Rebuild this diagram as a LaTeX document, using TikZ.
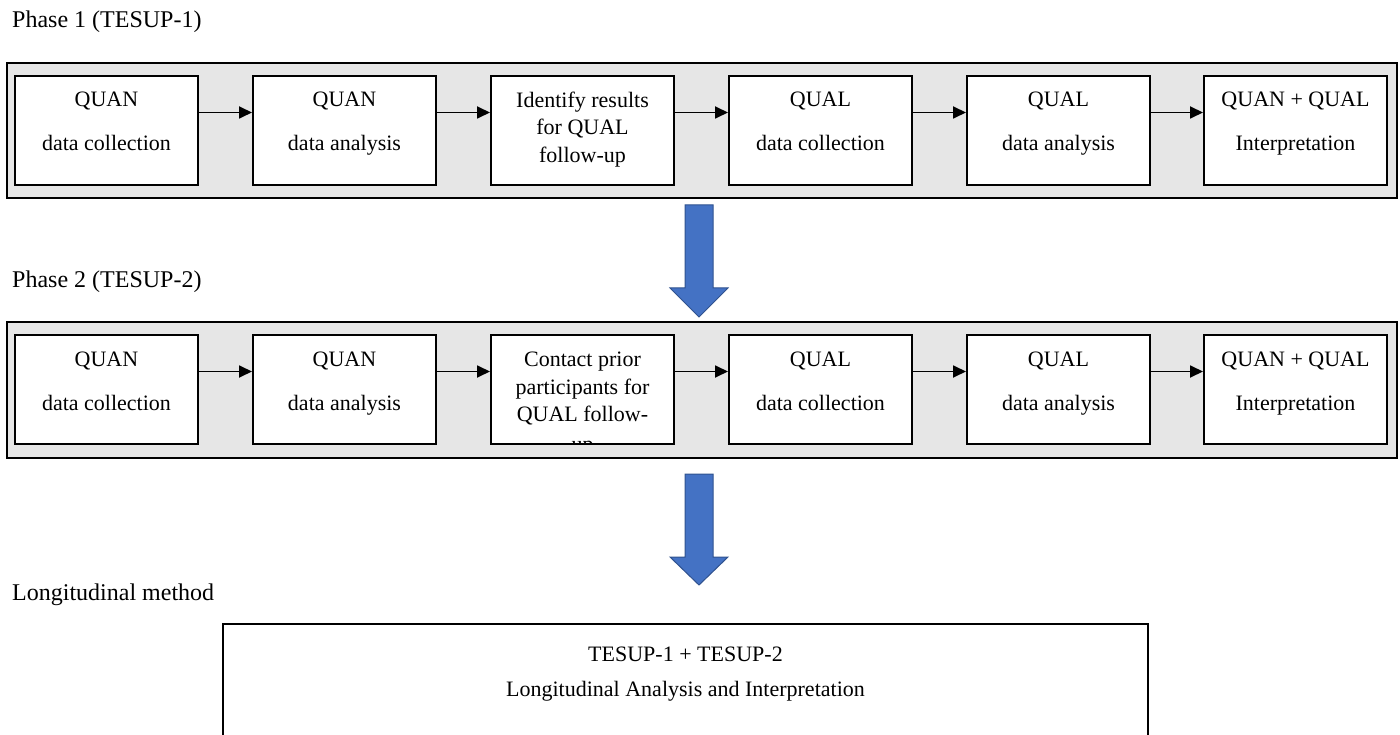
\documentclass[tikz,border=0pt]{standalone}
\usepackage{fontspec}
\setmainfont{Liberation Serif}
\usetikzlibrary{arrows.meta}
\definecolor{panelgray}{RGB}{230,230,230}
\definecolor{arrowblue}{RGB}{68,114,196}
\definecolor{arrowedge}{RGB}{47,82,143}
\tikzset{
  panel/.style={draw=black, line width=2pt, fill=panelgray, inner sep=0pt, anchor=north west},
  stepbox/.style={draw=black, line width=2pt, fill=white, minimum width=183pt, minimum height=109pt, inner sep=0pt, anchor=north west},
  boxtxt/.style={font=\fontsize{22}{26}\selectfont, anchor=base, inner sep=0pt},
  lbl/.style={font=\fontsize{24}{28}\selectfont, anchor=base west, inner sep=0pt},
  flow/.style={line width=1.8pt, -{Triangle[length=13pt,width=12pt]}},
  bigarrow/.style={fill=arrowblue, draw=arrowedge, line width=1pt, line join=miter},
}
\begin{document}
\begin{tikzpicture}[x=1pt,y=-1pt]
\useasboundingbox (0,0) rectangle (1400,735);

% ---------- Phase 1 ----------
\node[lbl] (lab1) at (12,28) {Phase 1 (TESUP-1)};
\node[panel, minimum width=1390pt, minimum height=135pt] (ph1) at (6,62) {};

\node[stepbox] (a1) at (14,75) {};
\node[stepbox] (a2) at (252,75) {};
\node[stepbox] (a3) at (490,75) {};
\node[stepbox] (a4) at (728,75) {};
\node[stepbox] (a5) at (966,75) {};
\node[stepbox] (a6) at (1203,75) {};

\node[boxtxt] (a1t1) at ([yshift=-32pt]a1.north) {QUAN};
\node[boxtxt] (a1t2) at ([yshift=-76pt]a1.north) {data collection};
\node[boxtxt] (a2t1) at ([yshift=-32pt]a2.north) {QUAN};
\node[boxtxt] (a2t2) at ([yshift=-76pt]a2.north) {data analysis};
\node[boxtxt] (a3t1) at ([yshift=-32.5pt]a3.north) {Identify results};
\node[boxtxt] (a3t2) at ([yshift=-60pt]a3.north) {for QUAL};
\node[boxtxt] (a3t3) at ([yshift=-87.5pt]a3.north) {follow-up};
\node[boxtxt] (a4t1) at ([yshift=-32pt]a4.north) {QUAL};
\node[boxtxt] (a4t2) at ([yshift=-76pt]a4.north) {data collection};
\node[boxtxt] (a5t1) at ([yshift=-32pt]a5.north) {QUAL};
\node[boxtxt] (a5t2) at ([yshift=-76pt]a5.north) {data analysis};
\node[boxtxt] (a6t1) at ([yshift=-32pt]a6.north) {QUAN + QUAL};
\node[boxtxt] (a6t2) at ([yshift=-76pt]a6.north) {Interpretation};

\foreach \u/\v in {a1/a2,a2/a3,a3/a4,a4/a5,a5/a6}
  \draw[flow] ([yshift=18pt]\u.east) -- ([yshift=18pt]\v.west);

% ---------- arrow 1 ----------
\draw[bigarrow] (685,205) -- (713,205) -- (713,288) -- (728,288) -- (699,317) -- (670,288) -- (685,288) -- cycle;

% ---------- Phase 2 ----------
\node[lbl] (lab2) at (12,288) {Phase 2 (TESUP-2)};
\node[panel, minimum width=1390pt, minimum height=136pt] (ph2) at (6,321) {};

\node[stepbox] (b1) at (14,334) {};
\node[stepbox] (b2) at (252,334) {};
\node[stepbox] (b3) at (490,334) {};
\node[stepbox] (b4) at (728,334) {};
\node[stepbox] (b5) at (966,334) {};
\node[stepbox] (b6) at (1203,334) {};

\node[boxtxt] (b1t1) at ([yshift=-32pt]b1.north) {QUAN};
\node[boxtxt] (b1t2) at ([yshift=-76pt]b1.north) {data collection};
\node[boxtxt] (b2t1) at ([yshift=-32pt]b2.north) {QUAN};
\node[boxtxt] (b2t2) at ([yshift=-76pt]b2.north) {data analysis};
\node[boxtxt] (b3t1) at ([yshift=-32.5pt]b3.north) {Contact prior};
\node[boxtxt] (b3t2) at ([yshift=-60pt]b3.north) {participants for};
\node[boxtxt] (b3t3) at ([yshift=-87.5pt]b3.north) {QUAL follow-};
\begin{scope}
  \clip (492,335) rectangle (673,442);
  \node[boxtxt] (b3t4) at ([yshift=-117pt]b3.north) {up};
\end{scope}
\node[boxtxt] (b4t1) at ([yshift=-32pt]b4.north) {QUAL};
\node[boxtxt] (b4t2) at ([yshift=-76pt]b4.north) {data collection};
\node[boxtxt] (b5t1) at ([yshift=-32pt]b5.north) {QUAL};
\node[boxtxt] (b5t2) at ([yshift=-76pt]b5.north) {data analysis};
\node[boxtxt] (b6t1) at ([yshift=-32pt]b6.north) {QUAN + QUAL};
\node[boxtxt] (b6t2) at ([yshift=-76pt]b6.north) {Interpretation};

\foreach \u/\v in {b1/b2,b2/b3,b3/b4,b4/b5,b5/b6}
  \draw[flow] ([yshift=18pt]\u.east) -- ([yshift=18pt]\v.west);

% ---------- arrow 2 ----------
\draw[bigarrow] (685,474) -- (713,474) -- (713,557) -- (728,557) -- (699,585) -- (670,557) -- (685,557) -- cycle;

% ---------- Longitudinal ----------
\node[lbl] (lab3) at (12,600) {Longitudinal method};
\draw[line width=2pt] (223,740) |- (1148,624) -- (1148,740);
\node[boxtxt] (c1) at (685.5,661) {TESUP-1 + TESUP-2};
\node[boxtxt] (c2) at (685.5,696) {Longitudinal Analysis and Interpretation};
\end{tikzpicture}
\end{document}
